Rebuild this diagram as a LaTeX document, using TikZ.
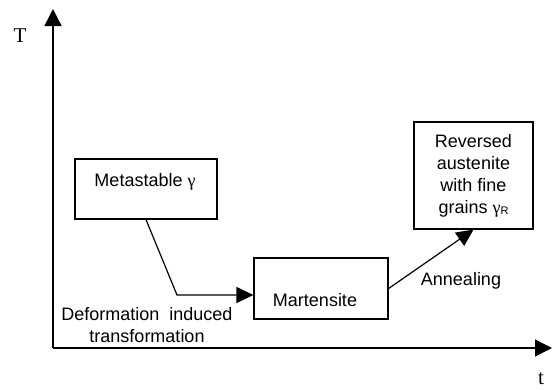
\documentclass[tikz,border=0pt]{standalone}
\usepackage{fontspec}
\setmainfont{Liberation Sans}
\newfontfamily\serifgr{Liberation Serif}
\newfontfamily\timesf{Liberation Serif}
\usetikzlibrary{arrows.meta}
\begin{document}
\begin{tikzpicture}[x=1pt,y=-1pt,
  every node/.style={font=\fontsize{18}{22}\selectfont},
  box/.style={draw, line width=1.2pt, inner sep=0pt},
  axis/.style={line width=1.5pt, -{Triangle[length=17pt,width=17pt]}},
  conn/.style={line width=1.2pt, -{Triangle[length=17pt,width=16pt]}},
  axlabel/.style={font=\timesf\fontsize{21}{21}\selectfont},
]
\useasboundingbox (0,0) rectangle (552,389);
% axes
\coordinate (O) at (53,348);
\coordinate (ytop) at (53,9);
\coordinate (xend) at (552,348);
\draw[axis] (O) -- (ytop);
\draw[axis] (O) -- (xend);
\node[axlabel] (T) at (20,36) {T};
\node[axlabel] (t) at (541,379) {t};
% boxes
\node[box, minimum width=142pt, minimum height=60pt] (meta) at (146,189) {};
\node (metatext) at (145,182) {Metastable {\serifgr γ}};
\node[box, minimum width=134pt, minimum height=61pt] (mart) at (321,288.5) {};
\node (marttext) at (315,300) {Martensite};
\node[box, minimum width=119pt, minimum height=107pt, align=center] (rev) at (473.5,175.5)
  {Reversed\\austenite\\with fine\\grains {\serifgr γ}\raisebox{-1pt}{\fontsize{11}{11}\selectfont R}};
% connectors
\coordinate (bend) at (177,295);
\draw[conn] (meta.south) -- (bend) -- (bend -| mart.west);
\draw[conn] (mart.east) -- (rev.south);
% labels
\node[align=center] (def) at (147,325) {Deformation\ \ induced\\transformation};
\node (ann) at (461,281) {Annealing};
\end{tikzpicture}
\end{document}
